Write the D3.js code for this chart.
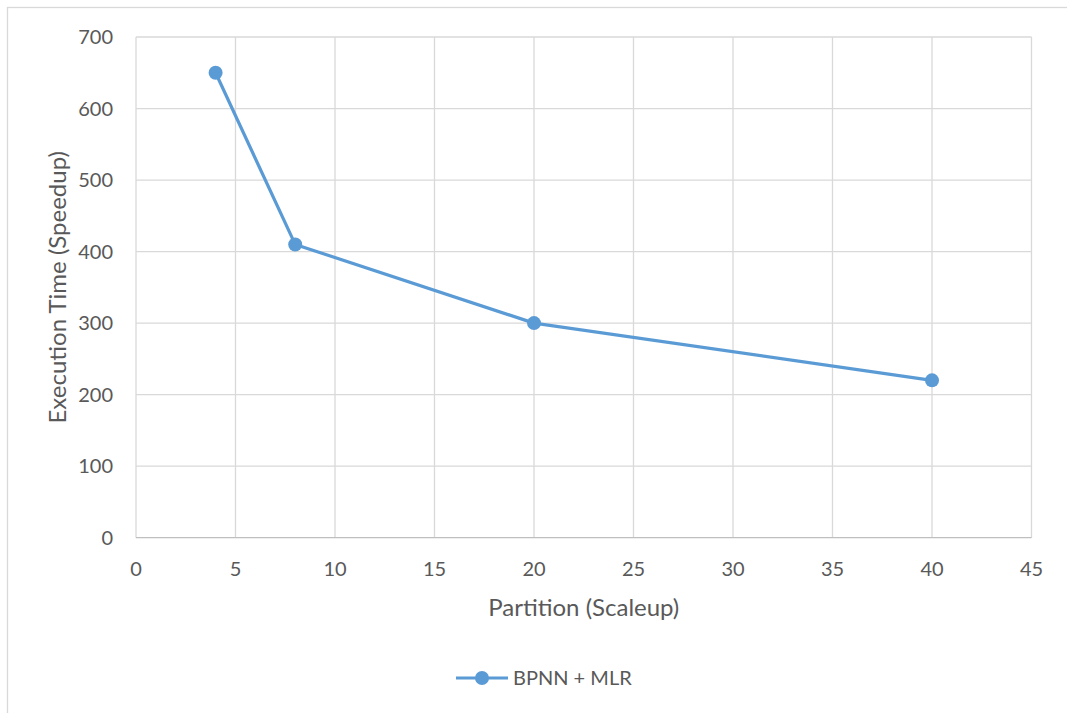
<!DOCTYPE html>
<html>
<head>
<meta charset="utf-8">
<script src="https://cdn.jsdelivr.net/npm/d3@7"></script>
<style>
  body { margin: 0; background: #fff; }
  svg { display: block; font-family: Lato, "Open Sans", sans-serif; }
</style>
</head>
<body>
<svg id="chart" width="1067" height="713"></svg>
<script>
// Data
const partitions = [4, 8, 20, 40];
const execTime = [650, 410, 300, 220];
const xTicks = [0, 5, 10, 15, 20, 25, 30, 35, 40, 45];
const yTicks = [0, 100, 200, 300, 400, 500, 600, 700];
const seriesName = "BPNN + MLR";

const svg = d3.select("#chart");
const plot = { left: 136, top: 37, right: 1031.5, bottom: 537.7 };
const lineColor = "#5b9bd5";
const textColor = "#595959";
const gridColor = "#d9d9d9";

// chart border
svg.append("rect")
    .attr("x", 7.5).attr("y", 7.5)
    .attr("width", 1100).attr("height", 800)
    .attr("fill", "none")
    .attr("stroke", gridColor)
    .attr("stroke-width", 1.3);

var x = d3.scaleLinear().domain([0, 45]).range([plot.left, plot.right]);
var y = d3.scaleLinear().domain([0, 700]).range([plot.bottom, plot.top]);

// grid lines
svg.append("g")
    .selectAll("line.v")
    .data(xTicks)
    .join("line")
    .attr("x1", d => x(d)).attr("x2", d => x(d))
    .attr("y1", plot.top).attr("y2", plot.bottom)
    .attr("stroke", gridColor)
    .attr("stroke-width", 1.3);

svg.append("g")
    .selectAll("line.h")
    .data(yTicks.filter(d => d > 0))
    .join("line")
    .attr("x1", plot.left).attr("x2", plot.right)
    .attr("y1", d => y(d)).attr("y2", d => y(d))
    .attr("stroke", gridColor)
    .attr("stroke-width", 1.3);

// x axis baseline
svg.append("line")
    .attr("x1", plot.left).attr("x2", plot.right)
    .attr("y1", y(0)).attr("y2", y(0))
    .attr("stroke", "#bfbfbf")
    .attr("stroke-width", 1.3);

// tick labels
svg.append("g")
    .selectAll("text")
    .data(yTicks)
    .join("text")
    .attr("x", 113)
    .attr("y", d => y(d))
    .attr("dy", "0.35em")
    .attr("text-anchor", "end")
    .attr("fill", textColor)
    .style("font-size", "20px")
    .text(d => d);

svg.append("g")
    .selectAll("text")
    .data(xTicks)
    .join("text")
    .attr("x", d => x(d))
    .attr("y", 569)
    .attr("dy", "0.35em")
    .attr("text-anchor", "middle")
    .attr("fill", textColor)
    .style("font-size", "20px")
    .text(d => d);

// axis titles
svg.append("text")
    .attr("transform", "translate(58," + ((plot.top + plot.bottom) / 2) + ") rotate(-90)")
    .attr("dy", "0.35em")
    .attr("text-anchor", "middle")
    .attr("fill", textColor)
    .style("font-size", "24px")
    .text("Execution Time (Speedup)");

svg.append("text")
    .attr("x", (plot.left + plot.right) / 2)
    .attr("y", 608)
    .attr("dy", "0.35em")
    .attr("text-anchor", "middle")
    .attr("fill", textColor)
    .style("font-size", "24px")
    .text("Partition (Scaleup)");

// series
const pts = partitions.map((p, i) => [p, execTime[i]]);
svg.append("path")
    .datum(pts)
    .attr("fill", "none")
    .attr("stroke", lineColor)
    .attr("stroke-width", 3.2)
    .attr("stroke-linejoin", "round")
    .attr("d", d3.line().x(d => x(d[0])).y(d => y(d[1])));

svg.append("g")
    .selectAll("circle")
    .data(pts)
    .join("circle")
    .attr("cx", d => x(d[0]))
    .attr("cy", d => y(d[1]))
    .attr("r", 7)
    .attr("fill", lineColor);

// legend
const legend = svg.append("g").attr("transform", "translate(456,678)");
legend.append("line")
    .attr("x1", 0).attr("x2", 52)
    .attr("stroke", lineColor)
    .attr("stroke-width", 3.2);
legend.append("circle")
    .attr("cx", 26).attr("r", 7)
    .attr("fill", lineColor);
legend.append("text")
    .attr("x", 57)
    .attr("dy", "0.35em")
    .attr("fill", textColor)
    .style("font-size", "20px")
    .text(seriesName);
</script>
</body>
</html>
